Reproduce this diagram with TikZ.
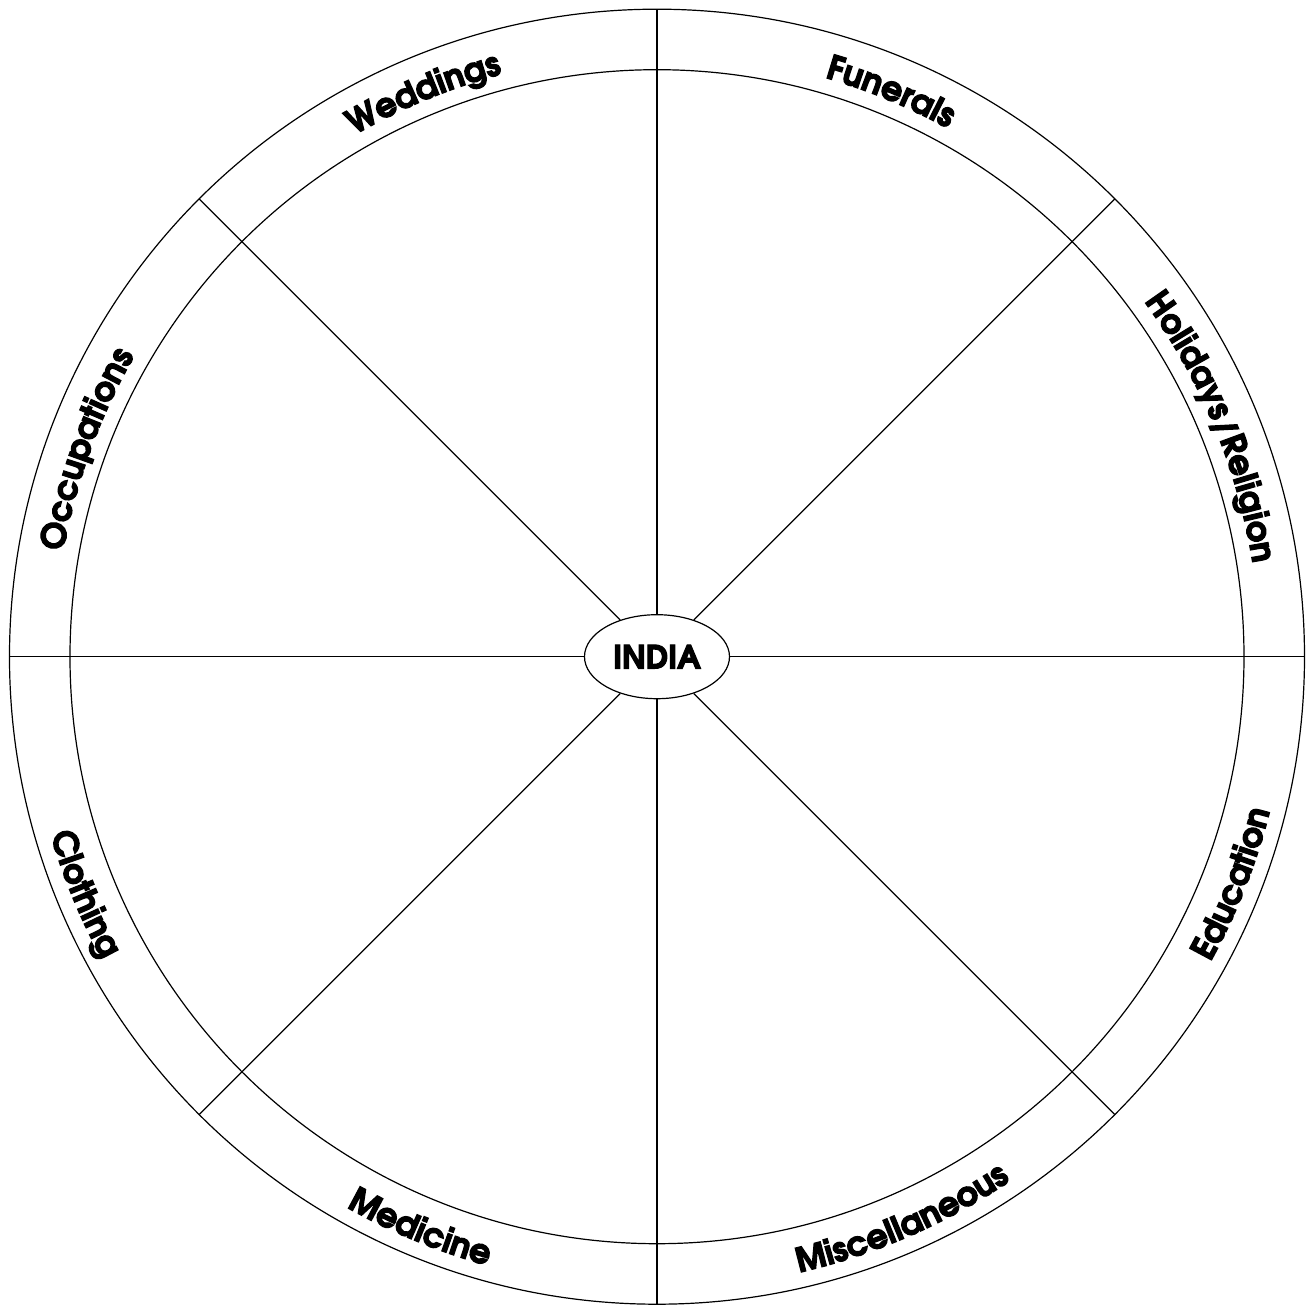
\documentclass[tikz,border=0pt]{standalone}
\usepackage{fontspec}
\setmainfont{texgyreadventor}[Extension=.otf, UprightFont=*-regular, BoldFont=*-bold, ItalicFont=*-italic, BoldItalicFont=*-bolditalic, BoldFeatures={FakeBold=3.5}]
\usetikzlibrary{decorations.text,shapes.geometric}
\tikzset{
  ring/.style={line width=1.2bp},
  spoke/.style={line width=1.2bp},
  hub/.style={ellipse, draw, line width=1.2bp, fill=white, minimum width=145bp, minimum height=84bp, inner sep=0pt, font=\fontsize{32bp}{38bp}\selectfont\bfseries},
  toplab/.style={decorate, decoration={text along path, text align=center, text={|\fontsize{33.5bp}{40bp}\selectfont\bfseries|#1}}},
  botlab/.style={decorate, decoration={text along path, text align=center, text={|\fontsize{33.5bp}{40bp}\selectfont\bfseries|#1}}}
}
\begin{document}
\begin{tikzpicture}
\useasboundingbox (-657bp,-649.3bp) rectangle (656bp,656.7bp);
\draw[ring] (0,0) circle[radius=647.5bp];
\draw[ring] (0,0) circle[radius=587bp];
\node[hub] (india) at (0,0) {INDIA};
\foreach \a in {0,45,...,315} {
  \coordinate (o\a) at (\a:647.5bp);
  \draw[spoke] (india) -- (o\a);
}
% upper labels (clockwise, tops outward)
\path[toplab={Weddings}] (137.5:603bp) arc[start angle=137.5, end angle=87.5, radius=603bp];
\path[toplab={Funerals}] (92.5:603bp) arc[start angle=92.5, end angle=42.5, radius=603bp];
\path[toplab={Holidays/Religion}] (52.5:603bp) arc[start angle=52.5, end angle=-7.5, radius=603bp];
\path[toplab={Occupations}] (190:603bp) arc[start angle=190, end angle=130, radius=603bp];
% lower labels (counterclockwise, tops inward)
\path[botlab={Education}] (-51.5:632bp) arc[start angle=-51.5, end angle=8.5, radius=632bp];
\path[botlab={Miscellaneous}] (-96.5:632bp) arc[start angle=-96.5, end angle=-36.5, radius=632bp];
\path[botlab={Medicine}] (-142.5:632bp) arc[start angle=-142.5, end angle=-82.5, radius=632bp];
\path[botlab={Clothing}] (172.5:632bp) arc[start angle=172.5, end angle=232.5, radius=632bp];
\end{tikzpicture}
\end{document}
